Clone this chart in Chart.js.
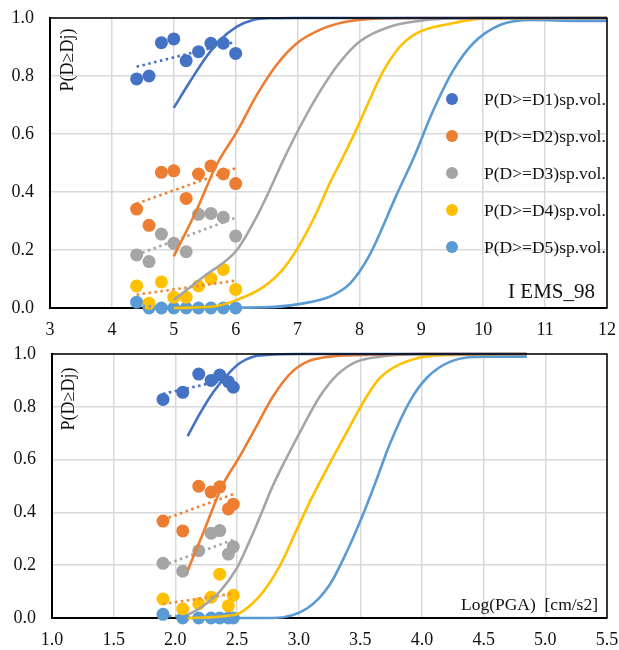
<!DOCTYPE html>
<html><head><meta charset="utf-8">
<script src="https://cdn.jsdelivr.net/npm/chart.js@4.4.1/dist/chart.umd.min.js"></script>
<style>
html,body{margin:0;padding:0;background:#fff;width:619px;height:650px;overflow:hidden;}
#w1{position:absolute;left:0;top:0;width:619px;height:345px;}
#w2{position:absolute;left:0;top:335px;width:619px;height:315px;}
</style></head><body>
<div id="w1"><canvas id="c1" width="619" height="345"></canvas></div>
<div id="w2"><canvas id="c2" width="619" height="315"></canvas></div>
<script>
// ---- labels & colours ----
const seriesLabels = ['P(D>=D1)sp.vol.','P(D>=D2)sp.vol.','P(D>=D3)sp.vol.','P(D>=D4)sp.vol.','P(D>=D5)sp.vol.'];
const seriesColors = ['#4472C4','#ED7D31','#A5A5A5','#FFC000','#5B9BD5'];
const trendColors  = ['#4472C4','#ED7D31','#A5A5A5','#EE8A3A','#5B9BD5'];

// ---- tick labels ----
const topXTicks  = [3,4,5,6,7,8,9,10,11,12];
const topXLabels = ['3','4','5','6','7','8','9','10','11','12'];
const botXTicks  = [1.0,1.5,2.0,2.5,3.0,3.5,4.0,4.5,5.0,5.5];
const botXLabels = ['1.0','1.5','2.0','2.5','3.0','3.5','4.0','4.5','5.0','5.5'];
const yTicks     = [0,0.2,0.4,0.6,0.8,1.0];
const yLabels    = ['0.0','0.2','0.4','0.6','0.8','1.0'];

// ---- top panel: EMS-98 intensity, observed points ----
const topX  = [4.4,4.6,4.8,5.0,5.2,5.4,5.6,5.8,6.0];
const topD1 = [0.79,0.80,0.915,0.928,0.853,0.884,0.913,0.913,0.878];
const topD2 = [0.341,0.285,0.468,0.473,0.378,0.462,0.490,0.462,0.429];
const topD3 = [0.183,0.160,0.255,0.223,0.194,0.323,0.326,0.313,0.248];
const topD4 = [0.076,0.016,0.090,0.037,0.037,0.076,0.102,0.133,0.064];
const topD5 = [0.020,0,0,0,0,0,0,0,0];

// ---- top panel: fitted curves ----
const topC1X = [5.0,5.26,5.53,5.75,6.02,6.28,6.55,7.0,8.0,12.0];
const topC1Y = [0.69,0.78,0.867,0.924,0.97,0.993,0.999,1.0,1.0,1.0];
const topC2X = [5.0,5.37,5.69,6.02,6.34,6.66,6.99,7.36,7.74,8.17,9.0,12.0];
const topC2Y = [0.178,0.338,0.493,0.608,0.734,0.838,0.913,0.959,0.985,0.997,1.0,1.0];
const topC3X = [5.0,5.48,6.02,6.34,6.55,6.77,7.04,7.36,7.69,8.01,8.49,9.08,10.0,12.0];
const topC3Y = [0.028,0.108,0.2,0.315,0.407,0.51,0.625,0.746,0.849,0.92,0.97,0.993,1.0,1.0];
const topC4X = [5.0,5.64,6.02,6.45,6.77,7.04,7.31,7.52,7.71,7.95,8.17,8.38,8.65,8.92,9.46,10.0,12.0];
const topC4Y = [0.0,0.005,0.028,0.073,0.135,0.22,0.33,0.43,0.51,0.615,0.72,0.815,0.9,0.947,0.98,0.998,1.0];
const topC5X = [5.0,6.55,7.09,7.52,7.85,8.17,8.6,8.88,9.19,9.52,9.84,10.27,10.8,11.5,12.0];
const topC5Y = [0.0,0.003,0.016,0.039,0.085,0.185,0.39,0.52,0.68,0.821,0.913,0.976,0.993,0.99,0.99];

// ---- bottom panel: Log(PGA), observed points ----
const botX  = [1.9,2.06,2.19,2.29,2.36,2.43,2.47];
const botD1 = [0.828,0.855,0.924,0.900,0.920,0.895,0.874];
const botD2 = [0.367,0.330,0.499,0.477,0.497,0.413,0.431];
const botD3 = [0.207,0.177,0.255,0.321,0.331,0.242,0.270];
const botD4 = [0.072,0.034,0.054,0.079,0.166,0.046,0.086];
const botD5 = [0.014,0,0,0,0,0,0];

// ---- bottom panel: fitted curves ----
const botC1X = [2.1,2.2,2.31,2.42,2.52,2.63,2.74,3.0,4.85];
const botC1Y = [0.689,0.775,0.857,0.92,0.965,0.99,0.996,1.0,1.0];
const botC2X = [2.1,2.23,2.38,2.52,2.66,2.79,2.93,3.07,3.25,3.52,4.0,4.85];
const botC2Y = [0.18,0.327,0.50,0.61,0.728,0.838,0.925,0.971,0.99,0.996,1.0,1.0];
const botC3X = [2.1,2.2,2.36,2.5,2.61,2.71,2.78,2.9,3.04,3.17,3.31,3.47,3.66,4.0,4.85];
const botC3Y = [0.012,0.037,0.1,0.19,0.3,0.41,0.49,0.605,0.73,0.838,0.92,0.971,0.99,1.0,1.0];
const botC4X = [2.1,2.47,2.69,2.85,2.98,3.09,3.16,3.28,3.42,3.55,3.66,3.96,4.23,4.85];
const botC4Y = [0.0,0.011,0.087,0.2,0.33,0.44,0.504,0.61,0.73,0.838,0.91,0.984,0.996,1.0];
const botC5X = [2.1,2.79,3.07,3.25,3.39,3.52,3.62,3.74,3.9,4.04,4.23,4.52,4.85];
const botC5Y = [0.0,0.0,0.037,0.125,0.251,0.39,0.51,0.66,0.82,0.91,0.971,0.99,0.99];

// ---- helpers ----
function pts(xs, ys){ return xs.map((x,i)=>({x:x, y:ys[i]})); }
function trend(xs, ys){ // least-squares linear trendline of observed points
  const n = xs.length;
  const mx = xs.reduce((a,b)=>a+b,0)/n, my = ys.reduce((a,b)=>a+b,0)/n;
  let sxy=0, sxx=0;
  for(let i=0;i<n;i++){ sxy += (xs[i]-mx)*(ys[i]-my); sxx += (xs[i]-mx)*(xs[i]-mx); }
  const b = sxy/sxx, a = my - b*mx;
  return [{x:xs[0], y:a+b*xs[0]}, {x:xs[n-1], y:a+b*xs[n-1]}];
}
function buildDatasets(xs, series, cx, cy){
  const ds = [];
  for(let i=0;i<5;i++){
    ds.push({type:'line', data: pts(cx[i], cy[i]), borderColor: seriesColors[i], borderWidth: 2.6,
      pointRadius:0, showLine:true, fill:false, cubicInterpolationMode:'monotone', order:1, clip:3});
  }
  for(let i=0;i<5;i++){
    ds.push({type:'line', data: trend(xs, series[i]), borderColor: trendColors[i], borderWidth: 2.6,
      borderDash:[2.5,3.5], pointRadius:0, showLine:true, fill:false, order:2, clip:3});
  }
  for(let i=0;i<5;i++){
    ds.push({type:'scatter', label: seriesLabels[i], data: pts(xs, series[i]), backgroundColor: seriesColors[i],
      borderColor: seriesColors[i], pointRadius:6.5, pointHoverRadius:6.5, pointBorderWidth:0, showLine:false, order:3, clip:false});
  }
  return ds;
}

const FONT = '"Liberation Serif","Times New Roman",serif';
const TXT = '#111';

function makeOptions(xMin, xMax, xTicks, xLabels, yW, xH, pad){
  return {
    responsive:false, animation:false, devicePixelRatio:1,
    layout:{padding:pad},
    plugins:{legend:{display:false}, tooltip:{enabled:false}},
    scales:{
      x:{type:'linear', min:xMin, max:xMax,
        afterBuildTicks: s => { s.ticks = xTicks.map(v=>({value:v})); },
        afterFit: s => { s.height = xH; s.paddingLeft = 0; s.paddingRight = 0; },
        ticks:{callback:(v,i)=>xLabels[i], color:TXT, font:{family:FONT, size:18}, padding:11, maxRotation:0, autoSkip:false},
        grid:{color:'#d9d9d9', lineWidth:1.5, drawTicks:false},
        border:{color:'#000', width:2}},
      y:{type:'linear', min:0, max:1,
        afterBuildTicks: s => { s.ticks = yTicks.map(v=>({value:v})); },
        afterFit: s => { s.width = yW; s.paddingTop = 0; s.paddingBottom = 0; },
        ticks:{callback:(v,i)=>yLabels[i], color:TXT, font:{family:FONT, size:18}, padding:16},
        grid:{color:'#d9d9d9', lineWidth:1.5, drawTicks:false},
        border:{color:'#000', width:2}}
    }
  };
}

function framePlugin(extra){
  return {
    id:'frame'+Math.floor(Math.random()*1e6),
    afterDraw(chart){
      const ctx = chart.ctx, a = chart.chartArea;
      ctx.save();
      ctx.strokeStyle = '#000'; ctx.lineWidth = 1.5;
      ctx.beginPath();
      ctx.moveTo(a.left, a.top); ctx.lineTo(a.right, a.top); ctx.lineTo(a.right, a.bottom);
      ctx.stroke();
      ctx.restore();
      extra(chart);
    }
  };
}

function yTitle(ctx, x, y){
  ctx.save();
  ctx.translate(x, y); ctx.rotate(-Math.PI/2);
  ctx.font = '18px ' + FONT; ctx.fillStyle = TXT; ctx.textAlign='center'; ctx.textBaseline='middle';
  ctx.fillText('P(D\u2265Dj)', 0, 0);
  ctx.restore();
}

// ---- top chart ----
new Chart(document.getElementById('c1'), {
  type:'scatter',
  data:{datasets: buildDatasets(topX, [topD1,topD2,topD3,topD4,topD5],
        [topC1X,topC2X,topC3X,topC4X,topC5X], [topC1Y,topC2Y,topC3Y,topC4Y,topC5Y])},
  options: makeOptions(3, 12, topXTicks, topXLabels, 50, 37, {left:0, right:12, top:18, bottom:0}),
  plugins:[framePlugin(chart => {
    const ctx = chart.ctx;
    yTitle(ctx, 68, 60);
    const legY = [99,136,173,210,247];
    ctx.save();
    ctx.font = '17.5px ' + FONT; ctx.textBaseline='middle'; ctx.textAlign='left';
    for(let i=0;i<5;i++){
      ctx.fillStyle = seriesColors[i];
      ctx.beginPath(); ctx.arc(452, legY[i], 6, 0, Math.PI*2); ctx.fill();
      ctx.fillStyle = TXT;
      ctx.fillText(seriesLabels[i], 484, legY[i]+1);
    }
    ctx.font = '21px ' + FONT; ctx.textAlign='right'; ctx.textBaseline='alphabetic';
    ctx.fillText('I EMS_98', 595, 298);
    ctx.restore();
  })]
});

// ---- bottom chart ----
new Chart(document.getElementById('c2'), {
  type:'scatter',
  data:{datasets: buildDatasets(botX, [botD1,botD2,botD3,botD4,botD5],
        [botC1X,botC2X,botC3X,botC4X,botC5X], [botC1Y,botC2Y,botC3Y,botC4Y,botC5Y])},
  options: makeOptions(1, 5.5, botXTicks, botXLabels, 52, 32, {left:0, right:12, top:19, bottom:0}),
  plugins:[framePlugin(chart => {
    const ctx = chart.ctx;
    yTitle(ctx, 69, 399-335);
    ctx.save();
    ctx.font = '17.5px ' + FONT; ctx.fillStyle = TXT; ctx.textAlign='right'; ctx.textBaseline='alphabetic';
    ctx.fillText('Log(PGA)  [cm/s2]', 598, 610-335);
    ctx.restore();
  })]
});
</script>
</body></html>
